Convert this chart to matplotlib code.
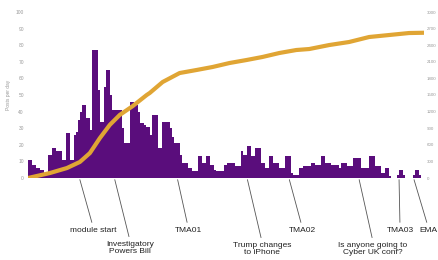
import matplotlib
matplotlib.use("Agg")
import matplotlib.pyplot as plt
import numpy as np

plt.rcParams['font.family'] = ['Liberation Sans', 'DejaVu Sans']

# Posts per day (one value per day)
posts_per_day = [
    11, 11, 8, 8, 6, 6, 5, 5, 3, 2,
    14, 14, 18, 18, 16, 16, 16, 11, 11, 27,
    27, 11, 11, 26, 28, 35, 40, 44, 44, 36,
    36, 29, 77, 77, 77, 53, 34, 34, 55, 65,
    65, 50, 41, 41, 41, 41, 41, 30, 21, 21,
    21, 46, 46, 44, 44, 40, 33, 33, 32, 31,
    31, 26, 38, 38, 38, 18, 18, 34, 34, 34,
    34, 30, 25, 21, 21, 21, 14, 9, 9, 9,
    6, 6, 4, 4, 4, 13, 13, 9, 9, 13,
    13, 8, 8, 5, 4, 4, 4, 4, 8, 8,
    9, 9, 9, 9, 7, 7, 7, 16, 14, 14,
    19, 19, 13, 13, 18, 18, 18, 9, 9, 6,
    6, 13, 13, 9, 9, 9, 6, 6, 6, 13,
    13, 13, 3, 2, 2, 2, 6, 6, 7, 7,
    7, 7, 9, 9, 8, 8, 8, 13, 13, 9,
    9, 9, 8, 8, 8, 8, 6, 9, 9, 9,
    7, 7, 7, 12, 12, 12, 12, 6, 6, 6,
    6, 13, 13, 13, 7, 7, 7, 3, 3, 6,
    6, 1, 0, 0, 0, 2, 5, 5, 2, 0,
    0, 0, 0, 2, 5, 5, 2,
]

# Cumulative posts (read at selected days)
cum_days = [0, 11, 19.5, 26, 31, 36, 41, 46, 52.5, 59.5, 61, 67.5, 76, 84.5,
            92.5, 101, 109.5, 117.5, 126, 134.5, 141, 151, 161, 171, 181, 191, 198.5]
cum_posts = [0, 90, 180, 290, 450, 720, 960, 1140, 1300, 1500, 1536, 1735, 1897, 1952,
             2006, 2078, 2132, 2187, 2259, 2313, 2331, 2403, 2458, 2548, 2584, 2620, 2625]

event_labels = ["module start", "Investigatory\nPowers Bill", "TMA01",
                "Trump changes\nto iPhone", "TMA02", "Is anyone going to\nCyber UK conf?",
                "TMA03", "EMA"]
event_days = [26, 43.5, 75, 110, 131, 166, 186, 193.5]

left_ticks = list(range(0, 101, 10))
right_ticks = list(range(0, 3001, 300))

W, H = 438, 260
fig = plt.figure(figsize=(W / 100, H / 100), dpi=100)
ax = fig.add_axes([28 / W, 1 - 178 / H, (424 - 28) / W, (178 - 12) / H])

purple = "#5a0d7c"
gold = "#e0a534"

days = np.arange(len(posts_per_day) + 1)
vals = np.append(posts_per_day, posts_per_day[-1])
ax.fill_between(days, 0, vals, step="post", color=purple, lw=0)
ax.set_xlim(0, 198.5)
ax.set_ylim(0, 100)
ax.set_yticks(left_ticks)
ax.tick_params(axis="y", length=0, labelsize=3.5, labelcolor="#999999", pad=3)
ax.set_xticks([])
for s in ax.spines.values():
    s.set_visible(False)
ax.set_ylabel("Posts per day", fontsize=3.5, color="#999999", labelpad=3)

ax2 = ax.twinx()
ax2.plot(cum_days, cum_posts, color=gold, lw=3.0, solid_capstyle="round")
ax2.set_ylim(0, 3000)
ax2.set_yticks(right_ticks)
ax2.tick_params(axis="y", length=0, labelsize=3.2, labelcolor="#999999", pad=2)
for s in ax2.spines.values():
    s.set_visible(False)
ax2.set_xlim(0, 198.5)

text_pos = [(93, 30), (130, 12), (188, 30), (262, 11), (302, 30), (373, 11), (400, 30), (428, 30)]
for lab, d, (tx, ty) in zip(event_labels, event_days, text_pos):
    ax.annotate(lab, xy=(d, -1), xycoords="data", xytext=(tx, ty),
                textcoords="figure pixels", ha="center", va="center",
                fontsize=6.0, color="#222222", annotation_clip=False,
                linespacing=1.1,
                arrowprops=dict(arrowstyle="-", color="#555555", lw=0.6,
                                relpos=(0.5, 1.0), shrinkA=1, shrinkB=0))

fig.savefig("out.png", dpi=100)
